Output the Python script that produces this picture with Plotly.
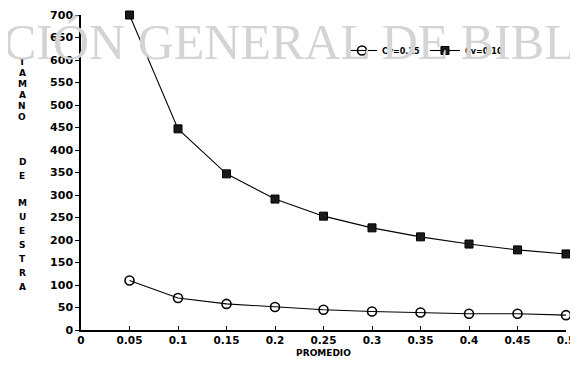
import plotly.graph_objects as go


# Datos

promedio = [0.05, 0.10, 0.15, 0.20, 0.25, 0.30, 0.35, 0.40, 0.45, 0.50]

tamano_cv025 = [110, 71, 58, 51, 45, 41, 39, 36, 36, 33]

tamano_cv010 = [700, 447, 347, 291, 253, 227, 207, 191, 178, 169]

x_ticks = [0, 0.05, 0.10, 0.15, 0.20, 0.25, 0.30, 0.35, 0.40, 0.45, 0.50]
x_tick_labels = ["0", "0.05", "0.1", "0.15", "0.2", "0.25", "0.3", "0.35", "0.4", "0.45", "0.5"]


# la pagina tiene 8 px de margen propio
OFF = 8
W, H = 578 - OFF, 378 - OFF
L, R, T, B = 81 - OFF, 12, 15 - OFF, 48


def px_x(p):
    return (p - OFF - L) / (W - L - R)


def px_y(p):
    return (H - B - (p - OFF)) / (H - T - B)


fig = go.Figure()

fig.add_trace(go.Scatter(
    x=promedio,
    y=tamano_cv025,
    mode="lines+markers",
    name="Cv=0.25",
    line=dict(color="black", width=1.1),
    marker=dict(symbol="circle-open", size=9, color="black", line=dict(width=1.6)),
    cliponaxis=False
))

fig.add_trace(go.Scatter(
    x=promedio,
    y=tamano_cv010,
    mode="lines+markers",
    name="Cv=0.10",
    line=dict(color="black", width=1.1),
    marker=dict(symbol="square", size=8, color="#1a1a1a", line=dict(color="black", width=1)),
    cliponaxis=False
))

bold = dict(family="DejaVu Sans", size=11, color="black", weight="bold")

fig.update_layout(
    width=W,
    height=H,
    margin=dict(l=L, r=R, t=T, b=B, autoexpand=False),
    plot_bgcolor="white",
    paper_bgcolor="white",
    font=bold,
    legend=dict(
        orientation="h",
        x=px_x(342),
        y=px_y(36),
        xanchor="left",
        yanchor="top",
        font=dict(family="DejaVu Sans", size=8, color="black", weight="bold"),
        bgcolor="rgba(0,0,0,0)",
        itemwidth=30
    ),
    xaxis=dict(
        range=[0, 0.5],
        tickvals=x_ticks,
        ticktext=x_tick_labels,
        ticklabeloverflow="allow",
        automargin=False,
        showgrid=False,
        zeroline=False,
        showline=True,
        linecolor="black",
        linewidth=1.5,
        ticks="inside",
        ticklen=4,
        tickcolor="black",
        tickfont=dict(family="DejaVu Sans", size=10.5, color="black", weight="bold"),
        title=dict(text="PROMEDIO", font=dict(family="DejaVu Sans", size=9, color="black", weight="bold"), standoff=4)
    ),
    yaxis=dict(
        range=[0, 700],
        dtick=50,
        ticklabeloverflow="allow",
        automargin=False,
        showgrid=False,
        zeroline=False,
        showline=True,
        linecolor="black",
        linewidth=1.5,
        ticks="outside",
        ticklen=4,
        tickcolor="black",
        tickfont=bold
    )
)

# titulo vertical del eje y, letra por letra
letras = [
    ("T", 62), ("A", 73), ("M", 84), ("A", 95), ("N", 106), ("O", 117),
    ("D", 162), ("E", 176),
    ("M", 203), ("U", 217), ("E", 231), ("S", 245), ("T", 259), ("R", 273), ("A", 287),
]
for letra, yp in letras:
    fig.add_annotation(
        text=letra, xref="paper", yref="paper",
        x=px_x(22), y=px_y(yp), xanchor="center", yanchor="middle",
        showarrow=False,
        font=dict(family="DejaVu Sans", size=9, color="black", weight="bold")
    )

# marca de agua del escaneo
fig.add_annotation(
    text="CIÓN GENERAL DE BIBL", xref="paper", yref="paper",
    x=px_x(289), y=px_y(42), xanchor="center", yanchor="middle",
    showarrow=False,
    font=dict(family="Liberation Serif", size=50, color="#d4d4d4", weight="normal")
)

fig.write_html("out.html")
